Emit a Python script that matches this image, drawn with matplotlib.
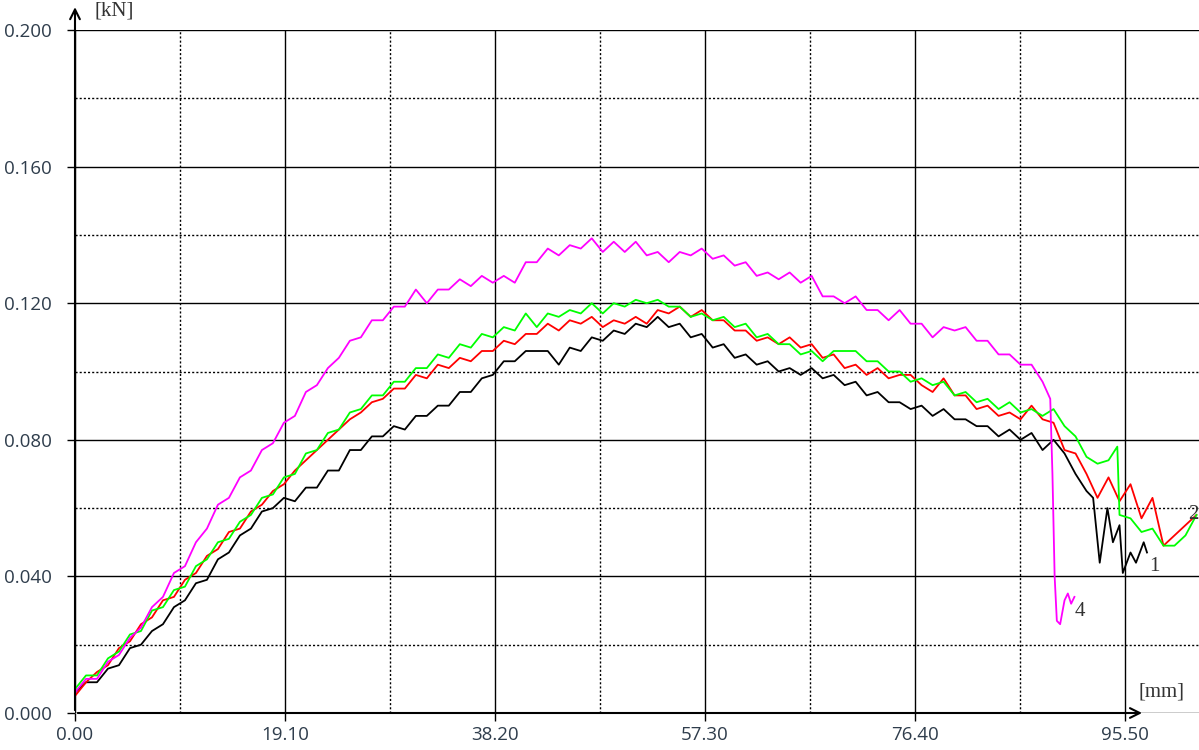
import numpy as np
import matplotlib
matplotlib.use("Agg")
import matplotlib.pyplot as plt

plt.rcParams['font.family'] = ['Liberation Serif', 'DejaVu Serif']

# tick positions
xticks = [0.0, 19.1, 38.2, 57.3, 76.4, 95.5]
xminor = [9.55, 28.65, 47.75, 66.85, 85.95]
yticks = [0.0, 0.04, 0.08, 0.12, 0.16, 0.2]
yminor = [0.02, 0.06, 0.10, 0.14, 0.18]

# curve 1 (black)
x1 = [0, 1, 2, 3, 4, 5, 6, 7, 8, 9, 10, 11, 12, 13, 14, 15, 16, 17, 18, 19,
      20, 21, 22, 23, 24, 25, 26, 27, 28, 29, 30, 31, 32, 33, 34, 35, 36, 37, 38, 39,
      40, 41, 42, 43, 44, 45, 46, 47, 48, 49, 50, 51, 52, 53, 54, 55, 56, 57, 58, 59,
      60, 61, 62, 63, 64, 65, 66, 67, 68, 69, 70, 71, 72, 73, 74, 75, 76, 77, 78, 79,
      80, 81, 82, 83, 84, 85, 86, 87, 88, 89, 90, 91, 92, 92.6, 93.2, 93.9, 94.4, 95.0,
      95.3, 96.0, 96.5, 97.2, 97.5]
y1 = [0.006, 0.009, 0.009, 0.013, 0.014, 0.019, 0.020, 0.024, 0.026, 0.031,
      0.033, 0.038, 0.039, 0.045, 0.047, 0.052, 0.054, 0.059, 0.060, 0.063,
      0.062, 0.066, 0.066, 0.071, 0.071, 0.077, 0.077, 0.081, 0.081, 0.084,
      0.083, 0.087, 0.087, 0.090, 0.090, 0.094, 0.094, 0.098, 0.099, 0.103,
      0.103, 0.106, 0.106, 0.106, 0.102, 0.107, 0.106, 0.110, 0.109, 0.112,
      0.111, 0.114, 0.113, 0.116, 0.113, 0.114, 0.110, 0.111, 0.107, 0.108,
      0.104, 0.105, 0.102, 0.103, 0.100, 0.101, 0.099, 0.101, 0.098, 0.099,
      0.096, 0.097, 0.093, 0.094, 0.091, 0.091, 0.089, 0.090, 0.087, 0.089,
      0.086, 0.086, 0.084, 0.084, 0.081, 0.083, 0.080, 0.082, 0.077, 0.080,
      0.076, 0.070, 0.065, 0.063, 0.044, 0.060, 0.050, 0.055, 0.041, 0.047,
      0.044, 0.050, 0.047]

# curve 3 (red)
x3 = [0, 1, 2, 3, 4, 5, 6, 7, 8, 9, 10, 11, 12, 13, 14, 15, 16, 17, 18, 19,
      20, 21, 22, 23, 24, 25, 26, 27, 28, 29, 30, 31, 32, 33, 34, 35, 36, 37, 38, 39,
      40, 41, 42, 43, 44, 45, 46, 47, 48, 49, 50, 51, 52, 53, 54, 55, 56, 57, 58, 59,
      60, 61, 62, 63, 64, 65, 66, 67, 68, 69, 70, 71, 72, 73, 74, 75, 76, 77, 78, 79,
      80, 81, 82, 83, 84, 85, 86, 87, 88, 89, 90, 91, 92, 93, 94, 95, 96, 97, 98, 99,
      100, 101, 102]
y3 = [0.005, 0.009, 0.012, 0.014, 0.019, 0.021, 0.026, 0.028, 0.033, 0.034,
      0.039, 0.041, 0.046, 0.048, 0.053, 0.054, 0.059, 0.061, 0.065, 0.067,
      0.071, 0.074, 0.077, 0.080, 0.083, 0.086, 0.088, 0.091, 0.092, 0.095,
      0.095, 0.099, 0.098, 0.102, 0.101, 0.104, 0.103, 0.106, 0.106, 0.109,
      0.108, 0.111, 0.111, 0.114, 0.112, 0.115, 0.114, 0.116, 0.113, 0.115,
      0.114, 0.116, 0.114, 0.118, 0.117, 0.119, 0.116, 0.118, 0.115, 0.115,
      0.112, 0.112, 0.109, 0.110, 0.108, 0.110, 0.107, 0.108, 0.104, 0.105,
      0.101, 0.102, 0.099, 0.101, 0.098, 0.099, 0.099, 0.096, 0.094, 0.098,
      0.093, 0.093, 0.089, 0.090, 0.087, 0.088, 0.086, 0.090, 0.086, 0.085,
      0.077, 0.076, 0.070, 0.063, 0.069, 0.062, 0.067, 0.057, 0.063, 0.049,
      0.052, 0.055, 0.058]

# curve 2 (green)
x2 = [0, 1, 2, 3, 4, 5, 6, 7, 8, 9, 10, 11, 12, 13, 14, 15, 16, 17, 18, 19,
      20, 21, 22, 23, 24, 25, 26, 27, 28, 29, 30, 31, 32, 33, 34, 35, 36, 37, 38, 39,
      40, 41, 42, 43, 44, 45, 46, 47, 48, 49, 50, 51, 52, 53, 54, 55, 56, 57, 58, 59,
      60, 61, 62, 63, 64, 65, 66, 67, 68, 69, 70, 71, 72, 73, 74, 75, 76, 77, 78, 79,
      80, 81, 82, 83, 84, 85, 86, 87, 88, 89, 90, 91, 92, 93, 94, 94.8, 95.0, 96, 97, 98,
      99, 100, 101, 102]
y2 = [0.007, 0.011, 0.011, 0.016, 0.018, 0.023, 0.024, 0.030, 0.031, 0.036,
      0.037, 0.043, 0.045, 0.050, 0.051, 0.056, 0.058, 0.063, 0.064, 0.069,
      0.070, 0.076, 0.077, 0.082, 0.083, 0.088, 0.089, 0.093, 0.093, 0.097,
      0.097, 0.101, 0.101, 0.105, 0.104, 0.108, 0.107, 0.111, 0.110, 0.113,
      0.112, 0.117, 0.113, 0.117, 0.116, 0.118, 0.117, 0.120, 0.117, 0.120,
      0.119, 0.121, 0.120, 0.121, 0.119, 0.119, 0.116, 0.117, 0.115, 0.116,
      0.113, 0.114, 0.110, 0.111, 0.108, 0.108, 0.105, 0.106, 0.103, 0.106,
      0.106, 0.106, 0.103, 0.103, 0.100, 0.100, 0.097, 0.098, 0.096, 0.097,
      0.093, 0.094, 0.091, 0.092, 0.089, 0.091, 0.088, 0.089, 0.087, 0.089,
      0.084, 0.081, 0.075, 0.073, 0.074, 0.078, 0.058, 0.057, 0.053, 0.054,
      0.049, 0.049, 0.052, 0.058]

# curve 4 (magenta)
x4 = [0, 1, 2, 3, 4, 5, 6, 7, 8, 9, 10, 11, 12, 13, 14, 15, 16, 17, 18, 19,
      20, 21, 22, 23, 24, 25, 26, 27, 28, 29, 30, 31, 32, 33, 34, 35, 36, 37, 38, 39,
      40, 41, 42, 43, 44, 45, 46, 47, 48, 49, 50, 51, 52, 53, 54, 55, 56, 57, 58, 59,
      60, 61, 62, 63, 64, 65, 66, 67, 68, 69, 70, 71, 72, 73, 74, 75, 76, 77, 78, 79,
      80, 81, 82, 83, 84, 85, 86, 87, 88, 88.7, 88.9, 89.1, 89.3, 89.6, 90.0, 90.3,
      90.6, 90.9]
y4 = [0.006, 0.010, 0.010, 0.015, 0.017, 0.022, 0.025, 0.031, 0.034, 0.041,
      0.043, 0.050, 0.054, 0.061, 0.063, 0.069, 0.071, 0.077, 0.079, 0.085,
      0.087, 0.094, 0.096, 0.101, 0.104, 0.109, 0.110, 0.115, 0.115, 0.119,
      0.119, 0.124, 0.120, 0.124, 0.124, 0.127, 0.125, 0.128, 0.126, 0.128,
      0.126, 0.132, 0.132, 0.136, 0.134, 0.137, 0.136, 0.139, 0.135, 0.138,
      0.135, 0.138, 0.134, 0.135, 0.132, 0.135, 0.134, 0.136, 0.133, 0.134,
      0.131, 0.132, 0.128, 0.129, 0.127, 0.129, 0.126, 0.128, 0.122, 0.122,
      0.120, 0.122, 0.118, 0.118, 0.115, 0.118, 0.114, 0.114, 0.110, 0.113,
      0.112, 0.113, 0.109, 0.109, 0.105, 0.105, 0.102, 0.102, 0.097, 0.092,
      0.070, 0.040, 0.027, 0.026, 0.033, 0.035, 0.032, 0.034]

fig = plt.figure(figsize=(11.99, 7.5), dpi=100)
ax = fig.add_axes([75/1199, 37/750, 1124/1199, 683/750])
ax.set_xlim(0, 102.23)
ax.set_ylim(0, 0.2)
for s in ax.spines.values():
    s.set_visible(False)

tickfont = dict(family=['Open Sans', 'DejaVu Sans'], size=13.5)
ax.set_xticks(xticks)
ax.set_xticklabels(["%.2f" % v for v in xticks], fontdict=tickfont)
ax.set_yticks(yticks)
ax.set_yticklabels(["%.3f" % v for v in yticks], fontdict=tickfont)
ax.set_xticks(xminor, minor=True)
ax.set_yticks(yminor, minor=True)
ax.grid(which='major', color='k', lw=1.0, ls='-')
ax.grid(which='minor', color='k', lw=1.0, ls=(0, (1.5, 1.5)))
ax.tick_params(which='minor', length=0)
ax.tick_params(which='major', length=6, width=1, color='k', labelcolor='#2f3d4c')
ax.tick_params(axis='y', pad=11)
ax.tick_params(axis='x', pad=3)

ax.plot(x1, y1, color='black', lw=1.3, zorder=3)
ax.plot(x3, y3, color='#ff0000', lw=1.3, zorder=3)
ax.plot(x2, y2, color='#00ff00', lw=1.3, zorder=3)
ax.plot(x4, y4, color='#ff00ff', lw=1.3, zorder=3)

# axis arrows
ax.annotate('', xy=(0, 0.2075), xytext=(0, 0), annotation_clip=False,
            arrowprops=dict(arrowstyle='->,head_length=0.7,head_width=0.35', color='k', lw=1.5))
ax.annotate('', xy=(97.3, 0), xytext=(0, 0), annotation_clip=False,
            arrowprops=dict(arrowstyle='->,head_length=0.7,head_width=0.35', color='k', lw=1.5))

ax.text(1.8, 0.2055, '[kN]', fontsize=15, color='#333333', va='center', ha='left')
ax.text(96.7, 0.0062, '[mm]', fontsize=15, color='#333333', va='center', ha='left')

ax.text(97.7, 0.0428, '1', fontsize=15, color='#333333', va='center', ha='left')
ax.text(90.9, 0.0296, '4', fontsize=15, color='#333333', va='center', ha='left')
ax.text(102.15, 0.058, '2', fontsize=15, color='#333333', va='center', ha='right')

plt.savefig('out.png', dpi=100)
